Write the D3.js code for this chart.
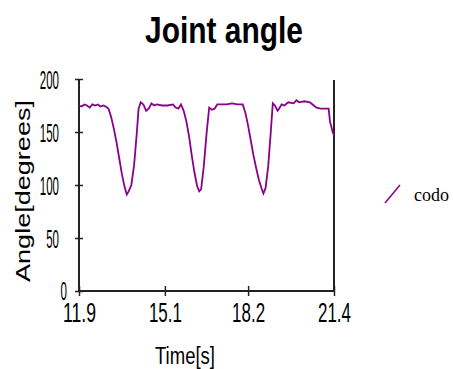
<!DOCTYPE html>
<html>
<head>
<meta charset="utf-8">
<script src="https://cdn.jsdelivr.net/npm/d3@7"></script>
<style>
  body { margin: 0; background: #fff; }
  svg { display: block; }
</style>
</head>
<body>
<svg id="chart" width="453" height="369"></svg>
<script>
// data
const time = [11.9, 12.0, 12.1, 12.2, 12.3, 12.4, 12.5, 12.6, 12.7, 12.8, 12.9, 13.0, 13.1, 13.2, 13.3, 13.4, 13.5, 13.6, 13.68, 13.75, 13.85, 13.95, 14.05, 14.12, 14.2, 14.3, 14.4, 14.5, 14.6, 14.7, 14.8, 15.0, 15.2, 15.4, 15.5, 15.6, 15.7, 15.8, 15.9, 16.0, 16.1, 16.2, 16.3, 16.38, 16.45, 16.55, 16.65, 16.75, 16.85, 16.95, 17.05, 17.2, 17.4, 17.6, 17.8, 18.0, 18.1, 18.2, 18.3, 18.4, 18.5, 18.6, 18.7, 18.77, 18.85, 18.95, 19.05, 19.12, 19.2, 19.3, 19.35, 19.45, 19.55, 19.7, 19.9, 20.0, 20.1, 20.3, 20.5, 20.65, 20.75, 20.9, 21.1, 21.2, 21.25, 21.35, 21.4];
const codo = [175, 174, 176, 175, 173, 176, 175, 176, 174, 175, 174, 172, 164, 153, 140, 125, 110, 98, 91, 94, 100, 118, 148, 172, 178, 176, 170, 172, 177, 175, 176, 175, 175, 176, 173, 172, 176, 170, 160, 146, 128, 112, 99, 94, 96, 118, 148, 173, 171, 172, 176, 176, 176, 177, 176, 176, 168, 156, 142, 128, 116, 105, 97, 92, 97, 118, 152, 177, 175, 170, 172, 176, 175, 178, 177, 180, 178, 179, 178, 175, 173, 172, 172, 172, 160, 150, 147];
const xTicks = [11.9, 15.1, 18.2, 21.4];
const yTicks = [0, 50, 100, 150, 200];
const seriesName = "codo";

const svg = d3.select("#chart");
const mLeft = 79, mRight = 334, mTop = 79, mBottom = 291;
const purple = "#8b008b";
const narrow = "'Liberation Sans Narrow', 'Liberation Sans', Arial, sans-serif";

const x = d3.scaleLinear().domain([11.9, 21.4]).range([mLeft, mRight]);
const y = d3.scaleLinear().domain([0, 200]).range([mBottom, mTop]);

// title
svg.append("text")
  .attr("x", 224).attr("y", 43)
  .attr("text-anchor", "middle")
  .style("font-family", "'Liberation Sans', Arial, sans-serif")
  .style("font-weight", "bold")
  .style("font-size", "36px")
  .attr("textLength", 158).attr("lengthAdjust", "spacingAndGlyphs")
  .text("Joint angle");

// right border
svg.append("line")
  .attr("x1", mRight).attr("x2", mRight)
  .attr("y1", y(200) + 1).attr("y2", mBottom)
  .attr("stroke", "#222").attr("stroke-width", 2);

// y axis
const yAxis = svg.append("g")
  .attr("transform", "translate(" + mLeft + ",0)")
  .call(d3.axisLeft(y).tickValues(yTicks).tickSize(4).tickPadding(16));
yAxis.select(".domain").attr("stroke", "#222").attr("stroke-width", 2).attr("d", "M0," + y(200) + "V" + mBottom);
yAxis.selectAll(".tick line").attr("x1", 4).attr("x2", -4).attr("stroke", "#222").attr("stroke-width", 1.5);
yAxis.selectAll(".tick text")
  .style("font-family", narrow)
  .style("font-size", "26px")
  .attr("dy", "0.36em")
  .attr("textLength", d => String(d).length * 6.4)
  .attr("lengthAdjust", "spacingAndGlyphs")
  .attr("dx", d => d === 0 ? 8 : 0)
  .attr("y", d => d === 0 ? -1 : 0);

// x axis
const xAxis = svg.append("g")
  .attr("transform", "translate(0," + mBottom + ")")
  .call(d3.axisBottom(x).tickValues(xTicks).tickFormat(d3.format(".1f")).tickSize(5).tickPadding(12));
xAxis.select(".domain").attr("stroke", "#222").attr("stroke-width", 2).attr("d", "M" + mLeft + ",0H" + mRight);
xAxis.selectAll(".tick line").attr("y1", -5).attr("y2", 5).attr("stroke", "#222").attr("stroke-width", 1.5);
xAxis.selectAll(".tick text")
  .style("font-family", narrow)
  .style("font-size", "27px")
  .attr("y", 12)
  .attr("dy", "0.71em")
  .attr("textLength", 33)
  .attr("lengthAdjust", "spacingAndGlyphs");

// axis titles
svg.append("text")
  .attr("x", 185).attr("y", 364)
  .attr("text-anchor", "middle")
  .style("font-family", narrow)
  .style("font-size", "23px")
  .attr("textLength", 60).attr("lengthAdjust", "spacingAndGlyphs")
  .text("Time[s]");

svg.append("text")
  .attr("transform", "translate(30,191) rotate(-90)")
  .attr("text-anchor", "middle")
  .style("font-family", "'Liberation Sans', Arial, sans-serif")
  .style("font-size", "21px")
  .attr("textLength", 182).attr("lengthAdjust", "spacingAndGlyphs")
  .text("Angle[degrees]");

// series
const line = d3.line()
  .x((d, i) => x(time[i]))
  .y(d => y(d));

svg.append("path")
  .datum(codo)
  .attr("fill", "none")
  .attr("stroke", purple)
  .attr("stroke-width", 1.8)
  .attr("d", line);

// legend
svg.append("line")
  .attr("x1", 385).attr("y1", 203)
  .attr("x2", 400).attr("y2", 185)
  .attr("stroke", purple).attr("stroke-width", 1.5);
svg.append("text")
  .attr("x", 414).attr("y", 201)
  .style("font-family", "'Liberation Serif', 'Times New Roman', serif")
  .style("font-size", "19px")
  .attr("textLength", 35).attr("lengthAdjust", "spacingAndGlyphs")
  .text(seriesName);
</script>
</body>
</html>
